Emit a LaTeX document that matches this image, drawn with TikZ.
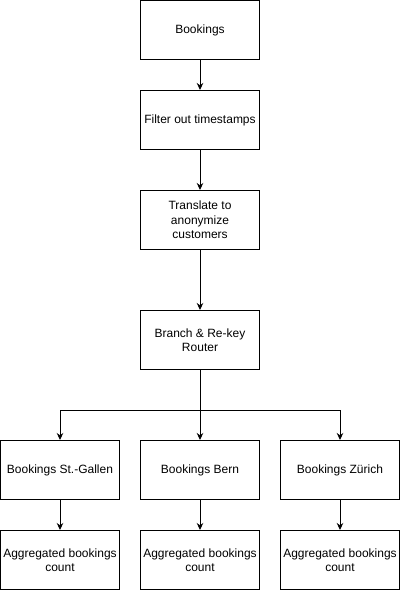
\documentclass[tikz,border=0pt]{standalone}
\usepackage{fontspec}
\setmainfont{Liberation Sans}
\usetikzlibrary{arrows.meta}

\tikzset{
  box/.style={draw, line width=1pt, minimum width=119pt, minimum height=59pt,
    inner sep=1pt, align=center, font=\fontsize{12pt}{14.4pt}\selectfont},
  flow/.style={-{Stealth[length=7pt,width=6.5pt]}, line width=1pt}
}

\begin{document}
\begin{tikzpicture}[x=1pt,y=-1pt]
\useasboundingbox (0,0) rectangle (401,591);

% Pipeline
\node[box] (bookings) at (200,30) {Bookings};
\node[box] (filter) at (200,120) {Filter out timestamps};
\node[box] (translate) at (200,220) {Translate to\\anonymize\\customers};
\node[box] (router) at (200,340) {Branch \& Re-key\\Router};

% Branches
\node[box] (stgallen) at (60,470) {Bookings St.-Gallen};
\node[box] (bern) at (200,470) {Bookings Bern};
\node[box] (zurich) at (340,470) {Bookings Zürich};

\node[box] (aggstgallen) at (60,560) {Aggregated bookings\\count};
\node[box] (aggbern) at (200,560) {Aggregated bookings\\count};
\node[box] (aggzurich) at (340,560) {Aggregated bookings\\count};

\coordinate (split) at (200,410);

% Connectors
\draw[flow] (bookings) -- (filter);
\draw[flow] (filter) -- (translate);
\draw[flow] (translate) -- (router);
\draw[flow] (router) -- (bern);
\draw[flow] (split) -| (stgallen);
\draw[flow] (split) -| (zurich);
\draw[flow] (stgallen) -- (aggstgallen);
\draw[flow] (bern) -- (aggbern);
\draw[flow] (zurich) -- (aggzurich);

\end{tikzpicture}
\end{document}
